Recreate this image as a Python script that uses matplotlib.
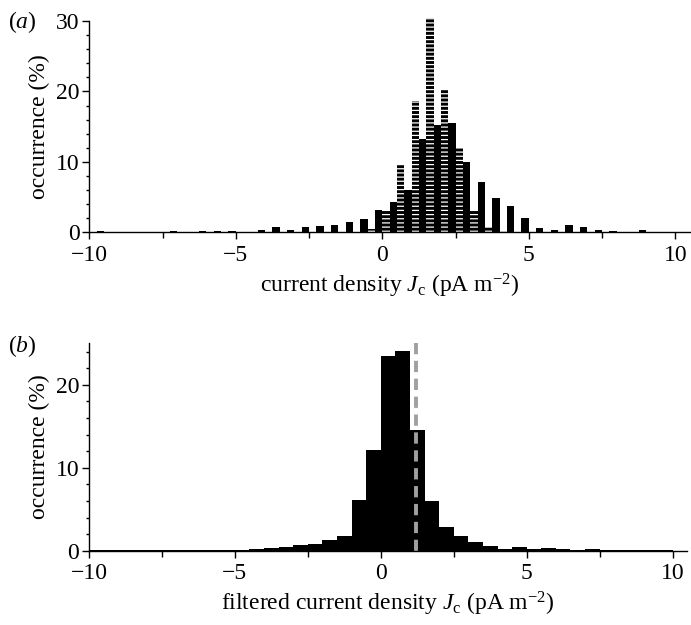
import numpy as np
import matplotlib
matplotlib.use("Agg")
import matplotlib.pyplot as plt
from matplotlib.ticker import MultipleLocator

plt.rcParams['font.family'] = ['Liberation Serif', 'DejaVu Serif']
plt.rcParams['mathtext.fontset'] = 'custom'
plt.rcParams['mathtext.rm'] = 'Liberation Serif'
plt.rcParams['mathtext.it'] = 'Liberation Serif:italic'
plt.rcParams['hatch.linewidth'] = 0.9

# (a) histogram, bins of 0.5 centred on these values
centres_a = [-9.5, -9.0, -8.5, -8.0, -7.5, -7.0, -6.5, -6.0, -5.5, -5.0,
             -4.5, -4.0, -3.5, -3.0, -2.5, -2.0, -1.5, -1.0, -0.5, 0.0,
             0.5, 1.0, 1.5, 2.0, 2.5, 3.0, 3.5, 4.0, 4.5, 5.0,
             5.5, 6.0, 6.5, 7.0, 7.5, 8.0, 8.5, 9.0, 9.5]
solid_a = [0.2, 0.0, 0.05, 0.0, 0.05, 0.24, 0.0, 0.24, 0.24, 0.24,
           0.08, 0.38, 0.76, 0.38, 0.76, 0.9, 1.04, 1.5, 1.9, 3.2,
           4.3, 6.0, 13.3, 15.2, 15.5, 10.0, 7.2, 4.9, 3.75, 2.0,
           0.6, 0.33, 1.04, 0.76, 0.33, 0.23, 0.05, 0.33, 0.05]
striped_a = [0.0, 0.0, 0.0, 0.0, 0.0, 0.0, 0.0, 0.0, 0.0, 0.0,
             0.0, 0.0, 0.0, 0.0, 0.0, 0.0, 0.0, 0.05, 0.43, 3.2,
             9.5, 18.6, 30.4, 20.4, 11.9, 3.2, 0.7, 0.23, 0.05, 0.0,
             0.0, 0.0, 0.0, 0.0, 0.0, 0.0, 0.0, 0.0, 0.0]

# (b) filtered histogram, left bin edges (width 0.5)
edges_b = [-10.0, -9.5, -9.0, -8.5, -8.0, -7.5, -7.0, -6.5, -6.0, -5.5,
           -5.0, -4.5, -4.0, -3.5, -3.0, -2.5, -2.0, -1.5, -1.0, -0.5,
           0.0, 0.5, 1.0, 1.5, 2.0, 2.5, 3.0, 3.5, 4.0, 4.5,
           5.0, 5.5, 6.0, 6.5, 7.0, 7.5, 8.0, 8.5, 9.0, 9.5]
values_b = [0.12, 0.03, 0.03, 0.03, 0.12, 0.05, 0.05, 0.03, 0.1, 0.1,
            0.12, 0.15, 0.28, 0.4, 0.68, 0.8, 1.28, 1.8, 6.08, 12.1,
            23.5, 24.1, 14.5, 5.97, 2.9, 1.8, 1.0, 0.56, 0.2, 0.4,
            0.2, 0.28, 0.15, 0.1, 0.2, 0.05, 0.08, 0.08, 0.03, 0.03]
threshold_b = 1.2

fs = 17
fig = plt.figure(figsize=(6.91, 6.25), dpi=100)
ax1 = fig.add_axes([0.1292, 0.6283, 0.8693, 0.3381])
ax2 = fig.add_axes([0.1288, 0.1189, 0.8657, 0.3318])

c = np.array(centres_a)
ax1.bar(c - 0.25, solid_a, width=0.25, align='edge', color='black',
        linewidth=0, clip_on=False)
ax1.bar(c, striped_a, width=0.25, align='edge', facecolor='black',
        edgecolor='white', hatch='----', linewidth=0, clip_on=False)
ax1.set_ylim(0, 30)
ax1.set_yticks([0, 10, 20, 30])
ax1.yaxis.set_minor_locator(MultipleLocator(2))
ax1.set_xlabel(r'current density $J_{\mathrm{c}}$ (pA m$^{-2}$)', fontsize=fs, labelpad=4)

ax2.bar(edges_b, values_b, width=0.5, align='edge', color='black', linewidth=0)
ax2.axvline(threshold_b, color='#a0a0a0', lw=2.8, dashes=(2.9, 1.7))
ax2.set_ylim(0, 25)
ax2.set_yticks([0, 10, 20])
ax2.yaxis.set_minor_locator(MultipleLocator(2))
ax2.set_xlabel(r'filtered current density $J_{\mathrm{c}}$ (pA m$^{-2}$)', fontsize=fs, labelpad=4)

for ax in (ax1, ax2):
    ax.set_xlim(-10, 10.5)
    ax.set_xticks([-10, -5, 0, 5, 10])
    ax.xaxis.set_minor_locator(MultipleLocator(2.5))
    for s in ('top', 'right'):
        ax.spines[s].set_visible(False)
    for s in ('left', 'bottom'):
        ax.spines[s].set_linewidth(1.0)
    ax.tick_params(axis='both', which='major', direction='out', length=5,
                   width=1.0, labelsize=fs, pad=2)
    ax.tick_params(axis='x', which='major', pad=4)
    ax.tick_params(axis='y', which='minor', direction='out', length=2.5, width=1.0)
    ax.tick_params(axis='x', which='minor', direction='out', length=4.5, width=1.0)
    ax.set_ylabel('occurrence (%)', fontsize=fs, labelpad=4)

fig.text(0.012, 0.965, r'$(\mathit{a})$', fontsize=fs, va='center')
fig.text(0.012, 0.447, r'$(\mathit{b})$', fontsize=fs, va='center')

plt.savefig('out.png', dpi=100)
